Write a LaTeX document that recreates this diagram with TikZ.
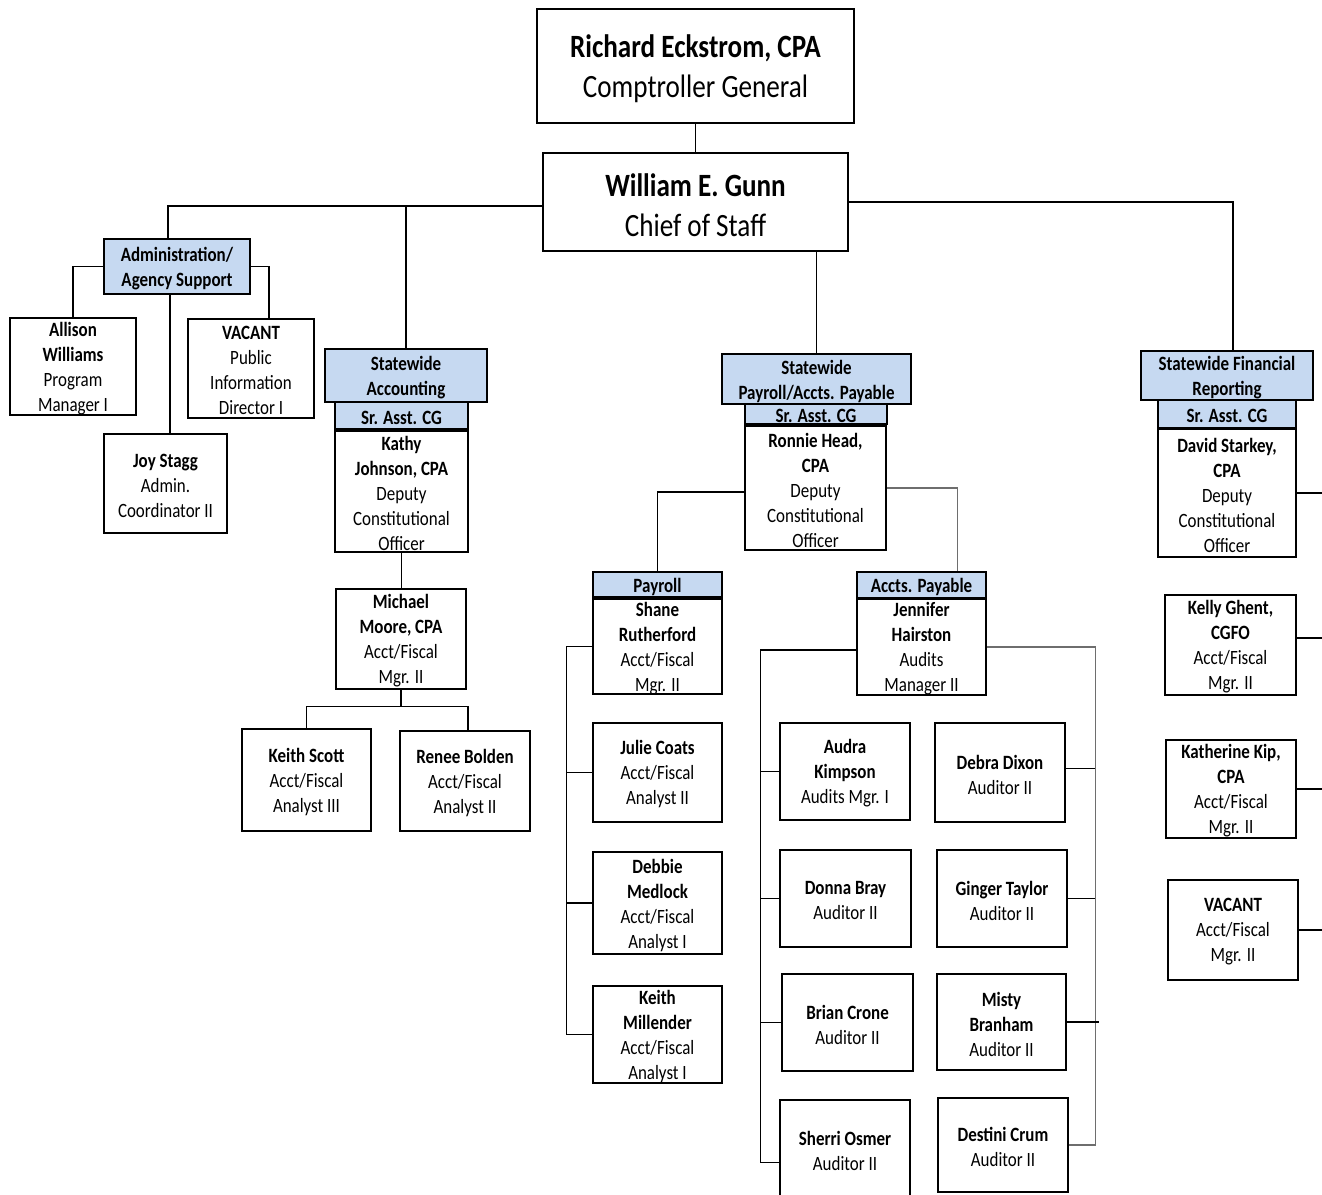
\documentclass[tikz,border=0pt]{standalone}
\usepackage{fontspec}
\setmainfont{Carlito}[FakeStretch=0.835]
\usetikzlibrary{fit,calc}
\definecolor{hdrblue}{RGB}{198,217,241}
\definecolor{greyline}{RGB}{110,110,110}
\tikzset{
  boxst/.style={draw=black, line width=2.6pt, inner sep=0pt, fill=white},
  bluebox/.style={boxst, fill=hdrblue},
  txt/.style={align=center, inner sep=0pt, yshift=-2pt, font=\fontsize{20.3}{25}\selectfont},
  bigtxt/.style={align=center, inner sep=0pt, yshift=-3pt, font=\fontsize{32.5}{40}\selectfont},
  conn/.style={draw=black, line width=1.4pt},
  gconn/.style={draw=greyline, line width=1.4pt},
}
\newcommand\obox[7][boxst]{%
  \node[#1, fit={(#3,#4) (#5,#6)}] (#2) {};
  \node[txt] (#2t) at (#2.center) {#7};}
\begin{document}
\begin{tikzpicture}[x=1pt,y=-1pt]
\clip (0,0) rectangle (1322,1194);
\fill[white] (0,0) rectangle (1322,1194);

% top
\node[boxst, fit={(537,9) (854,123)}] (richard) {};
\node[bigtxt] (richardt) at (richard.center) {\textbf{Richard Eckstrom, CPA}\\Comptroller General};
\node[boxst, fit={(543,153) (848,251)}] (william) {};
\node[bigtxt] (williamt) at (william.center) {\textbf{William E. Gunn}\\Chief of Staff};

% administration
\obox[bluebox]{admin}{104}{239}{250}{294}{\textbf{Administration/}\\\textbf{Agency Support}}
\obox{allison}{10}{318}{136}{415}{\textbf{Allison}\\\textbf{Williams}\\Program\\Manager I}
\obox{vacpub}{188}{319}{314}{418}{\textbf{VACANT}\\Public\\Information\\Director I}
\obox{joy}{104}{434}{227}{533}{\textbf{Joy Stagg}\\Admin.\\Coordinator II}

% statewide accounting
\obox[bluebox]{sahead}{325}{349}{487}{402}{\textbf{Statewide}\\\textbf{Accounting}}
\obox[bluebox]{sasr}{335}{402}{468}{429}{\textbf{Sr. Asst. CG}}
\obox{kathy}{335}{431}{468}{552}{\textbf{Kathy}\\\textbf{Johnson, CPA}\\Deputy\\Constitutional\\Officer}
\obox{michael}{336}{589}{466}{689}{\textbf{Michael}\\\textbf{Moore, CPA}\\Acct/Fiscal\\Mgr. II}
\obox{kscott}{242}{729}{371}{831}{\textbf{Keith Scott}\\Acct/Fiscal\\Analyst III}
\obox{renee}{400}{731}{530}{831}{\textbf{Renee Bolden}\\Acct/Fiscal\\Analyst II}

% statewide payroll / accts payable
\obox[bluebox]{sphead}{722}{354}{911}{404}{\textbf{Statewide}\\\textbf{Payroll/Accts. Payable}}
\obox[bluebox]{spsr}{745}{404}{887}{424}{\textbf{Sr. Asst. CG}}
\obox{ronnie}{745}{426}{886}{550}{\textbf{Ronnie Head,}\\\textbf{CPA}\\Deputy\\Constitutional\\Officer}
\obox[bluebox]{payhead}{593}{572}{722}{597}{\textbf{Payroll}}
\obox{shane}{593}{599}{722}{694}{\textbf{Shane}\\\textbf{Rutherford}\\Acct/Fiscal\\Mgr. II}
\obox[bluebox]{aphead}{857}{572}{986}{598}{\textbf{Accts. Payable}}
\obox{jennifer}{857}{599}{986}{695}{\textbf{Jennifer}\\\textbf{Hairston}\\Audits\\Manager II}
\obox{julie}{593}{723}{722}{822}{\textbf{Julie Coats}\\Acct/Fiscal\\Analyst II}
\obox{debbie}{593}{852}{722}{954}{\textbf{Debbie}\\\textbf{Medlock}\\Acct/Fiscal\\Analyst I}
\obox{kmill}{593}{986}{722}{1083}{\textbf{Keith}\\\textbf{Millender}\\Acct/Fiscal\\Analyst I}
\obox{audra}{780}{723}{910}{820}{\textbf{Audra}\\\textbf{Kimpson}\\Audits Mgr. I}
\obox{debra}{935}{723}{1065}{822}{\textbf{Debra Dixon}\\Auditor II}
\obox{donna}{780}{850}{911}{947}{\textbf{Donna Bray}\\Auditor II}
\obox{ginger}{937}{850}{1067}{947}{\textbf{Ginger Taylor}\\Auditor II}
\obox{brian}{782}{974}{913}{1071}{\textbf{Brian Crone}\\Auditor II}
\obox{misty}{937}{974}{1066}{1070}{\textbf{Misty}\\\textbf{Branham}\\Auditor II}
\obox{sherri}{780}{1100}{910}{1197}{\textbf{Sherri Osmer}\\Auditor II}
\obox{destini}{938}{1098}{1068}{1192}{\textbf{Destini Crum}\\Auditor II}

% statewide financial reporting
\obox[bluebox]{sfrhead}{1141}{351}{1313}{400}{\textbf{Statewide Financial}\\\textbf{Reporting}}
\obox[bluebox]{sfrsr}{1158}{400}{1296}{428}{\textbf{Sr. Asst. CG}}
\obox{david}{1158}{429}{1296}{557}{\textbf{David Starkey,}\\\textbf{CPA}\\Deputy\\Constitutional\\Officer}
\obox{kelly}{1165}{595}{1296}{695}{\textbf{Kelly Ghent,}\\\textbf{CGFO}\\Acct/Fiscal\\Mgr. II}
\obox{kkip}{1166}{740}{1296}{838}{\textbf{Katherine Kip,}\\\textbf{CPA}\\Acct/Fiscal\\Mgr. II}
\obox{vacfr}{1168}{880}{1298}{980}{\textbf{VACANT}\\Acct/Fiscal\\Mgr. II}

% connectors
\draw[conn] (richard.south) -- (william.north);
\coordinate (wl) at ([yshift=-4pt]william.west);
\draw[conn] (wl) -| ([xshift=-9pt]admin.north);
\draw[conn] (sahead.north) -- (sahead.north |- wl);
\draw[conn] (william.south -| sphead.north) -- (sphead.north);
\draw[conn] (william.east) -| ([xshift=6pt]sfrhead.north);

\draw[conn] (admin.west) -| (allison.north);
\draw[conn] (admin.east) -| ([xshift=18pt]vacpub.north);
\coordinate (ads) at ([xshift=-7pt]admin.south);
\draw[conn] (ads) -- (ads |- joy.north);

\draw[conn] (kathy.south) -- (kathy.south |- michael.north);
\draw[conn] (michael.south) -- ++(0,16) coordinate (mj);
\draw[conn] (kscott.north) |- (mj) -| ([xshift=3pt]renee.north);

\coordinate (rw) at ([yshift=-4pt]ronnie.west);
\draw[conn] (rw) -| (payhead.north);
\draw[gconn] (ronnie.east) -| ([xshift=36pt]aphead.north);

\coordinate (pb) at ([xshift=-25pt]shane.west);
\draw[conn] (shane.west) -- (pb) |- (kmill.west);
\draw[conn] (julie.west) -- (julie.west -| pb);
\draw[conn] (debbie.west) -- (debbie.west -| pb);

\coordinate (jw) at ([yshift=-3pt]jennifer.west);
\coordinate (apl) at ([xshift=-95pt]jw);
\coordinate (shs) at ([yshift=-14pt]sherri.west);
\draw[conn] (jw) -- (apl) |- (shs);
\draw[conn] (audra.west) -- (audra.west -| apl);
\draw[conn] (donna.west) -- (donna.west -| apl);
\draw[conn] (brian.west) -- (brian.west -| apl);

\coordinate (apr) at ([xshift=108pt]jennifer.east);
\draw[gconn] (jennifer.east) -- (apr) |- (destini.east);
\draw[conn] ([yshift=4pt]debra.east) -- ([yshift=4pt]debra.east -| apr);
\draw[conn] (ginger.east) -- (ginger.east -| apr);
\draw[conn] (misty.east) -- ([xshift=4pt]misty.east -| apr);

\coordinate (edge) at (1322,0);
\draw[conn] (david.east) -- (david.east -| edge);
\draw[conn] ([yshift=7pt]kelly.east) -- ([yshift=7pt]kelly.east -| edge);
\draw[conn] (kkip.east) -- (kkip.east -| edge);
\draw[conn] (vacfr.east) -- (vacfr.east -| edge);
\end{tikzpicture}
\end{document}
